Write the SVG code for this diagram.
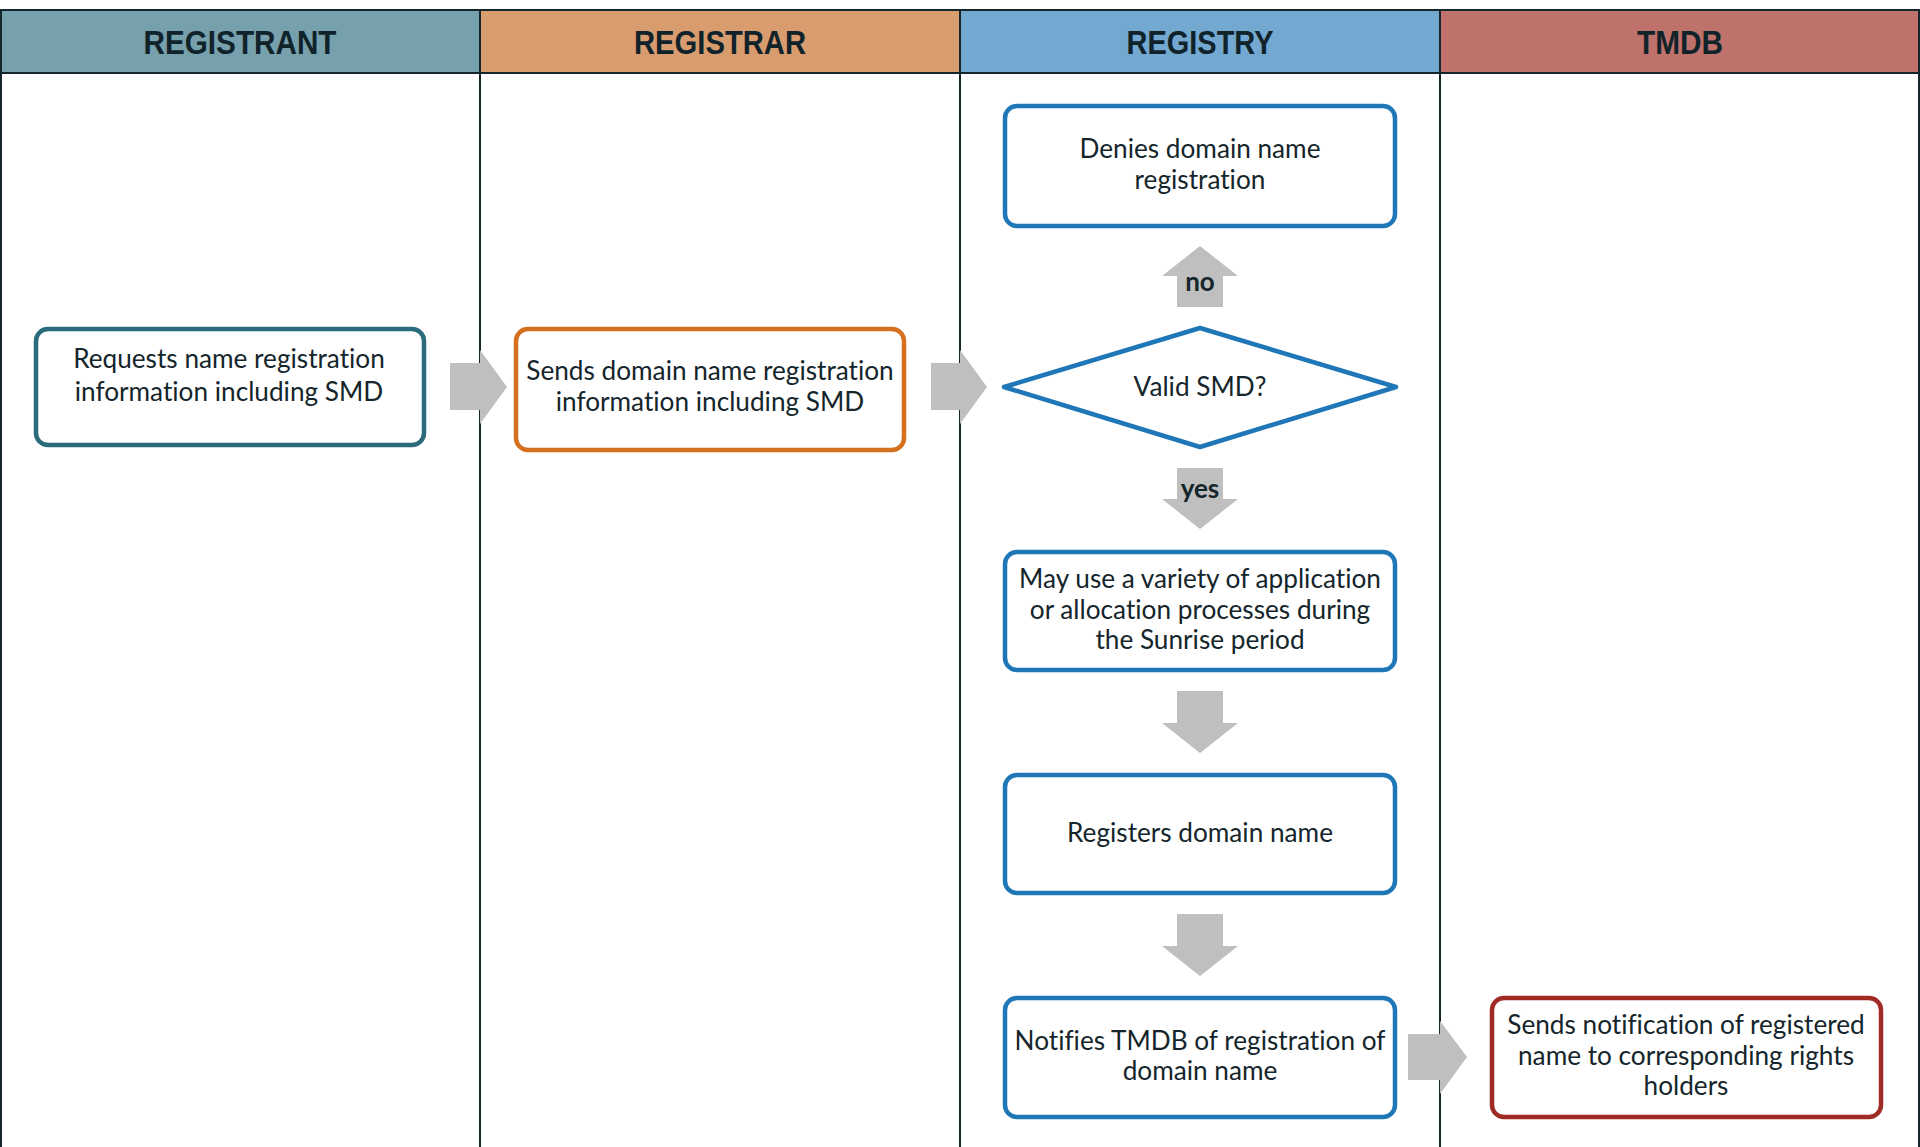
<svg xmlns="http://www.w3.org/2000/svg" width="1920" height="1147" viewBox="0 0 1920 1147">
<style>
.hdr{font-family:"Liberation Sans",Arial,sans-serif;font-weight:bold;font-size:33px;fill:#10232a;text-anchor:middle}
.t{font-family:Lato,"Liberation Sans",sans-serif;font-size:26.2px;fill:#14252b;text-anchor:middle;font-variant-ligatures:none}
.lbl{font-family:Lato,"Liberation Sans",sans-serif;font-weight:bold;font-size:26px;fill:#14252b;text-anchor:middle}
.box{fill:#fff;stroke-width:4.5}
.blue{stroke:#1f77b8}
.arr{fill:#bfbfbf}
.lane{stroke:#14252b;stroke-width:2}
</style>
<rect x="0" y="0" width="1920" height="1147" fill="#fff"/>
<g id="lanes">
<rect x="0" y="10" width="480" height="63" fill="#76a0ac"/>
<rect x="480" y="10" width="480" height="63" fill="#d99c6f"/>
<rect x="960" y="10" width="480" height="63" fill="#73a8d0"/>
<rect x="1440" y="10" width="480" height="63" fill="#bf726c"/>
<line class="lane" x1="0" y1="10" x2="1920" y2="10"/>
<line class="lane" x1="0" y1="73" x2="1920" y2="73"/>
<line class="lane" x1="1" y1="10" x2="1" y2="1147"/>
<line class="lane" x1="480" y1="10" x2="480" y2="1147"/>
<line class="lane" x1="960" y1="10" x2="960" y2="1147"/>
<line class="lane" x1="1440" y1="10" x2="1440" y2="1147"/>
<line class="lane" x1="1919" y1="10" x2="1919" y2="1147"/>
<text class="hdr" x="240" y="54" textLength="193" lengthAdjust="spacingAndGlyphs">REGISTRANT</text>
<text class="hdr" x="720" y="54" textLength="172" lengthAdjust="spacingAndGlyphs">REGISTRAR</text>
<text class="hdr" x="1200" y="54" textLength="147" lengthAdjust="spacingAndGlyphs">REGISTRY</text>
<text class="hdr" x="1680" y="54" textLength="86" lengthAdjust="spacingAndGlyphs">TMDB</text>
</g>
<g id="connectors">
<polygon class="arr" points="450,363 480,363 480,350 507,387 480,424 480,410 450,410"/>
<polygon class="arr" points="931,363 960,363 960,350 987,387 960,424 960,410 931,410"/>
<polygon class="arr" points="1177,307 1177,276 1162,276 1200,246 1238,276 1223,276 1223,307"/>
<polygon class="arr" points="1177,468 1223,468 1223,499 1238,499 1200,529 1162,499 1177,499"/>
<polygon class="arr" points="1177,691 1223,691 1223,723 1238,723 1200,753 1162,723 1177,723"/>
<polygon class="arr" points="1177,914 1223,914 1223,946 1238,946 1200,976 1162,946 1177,946"/>
<polygon class="arr" points="1408,1034 1440,1034 1440,1021 1467,1057 1440,1094 1440,1080 1408,1080"/>
<text class="lbl" x="1200" y="291">no</text>
<text class="lbl" x="1200" y="498">yes</text>
</g>
<g id="n1">
<rect class="box" x="36" y="329" width="388" height="116" rx="12" stroke="#2a6b7c"/>
<text class="t" x="229" y="368">Requests name registration</text>
<text class="t" x="229" y="401">information including SMD</text>
</g>
<g id="n2">
<rect class="box" x="516" y="329" width="388" height="121" rx="12" stroke="#d4701e"/>
<text class="t" x="710" y="380">Sends domain name registration</text>
<text class="t" x="710" y="411">information including SMD</text>
</g>
<g id="n3">
<rect class="box blue" x="1005" y="106" width="390" height="120" rx="12"/>
<text class="t" x="1200" y="158">Denies domain name</text>
<text class="t" x="1200" y="189">registration</text>
</g>
<g id="n4">
<polygon class="box blue" points="1004,387 1200,328 1396,387 1200,447" stroke-linejoin="round"/>
<text class="t" x="1200" y="396">Valid SMD?</text>
</g>
<g id="n5">
<rect class="box blue" x="1005" y="552" width="390" height="118" rx="12"/>
<text class="t" x="1200" y="588">May use a variety of application</text>
<text class="t" x="1200" y="619">or allocation processes during</text>
<text class="t" x="1200" y="649">the Sunrise period</text>
</g>
<g id="n6">
<rect class="box blue" x="1005" y="775" width="390" height="118" rx="12"/>
<text class="t" x="1200" y="842">Registers domain name</text>
</g>
<g id="n7">
<rect class="box blue" x="1005" y="998" width="390" height="119" rx="12"/>
<text class="t" x="1200" y="1050">Notifies TMDB of registration of</text>
<text class="t" x="1200" y="1080">domain name</text>
</g>
<g id="n8">
<rect class="box" x="1492" y="998" width="389" height="119" rx="12" stroke="#a02b24"/>
<text class="t" x="1686" y="1034">Sends notification of registered</text>
<text class="t" x="1686" y="1065">name to corresponding rights</text>
<text class="t" x="1686" y="1095">holders</text>
</g>
</svg>
